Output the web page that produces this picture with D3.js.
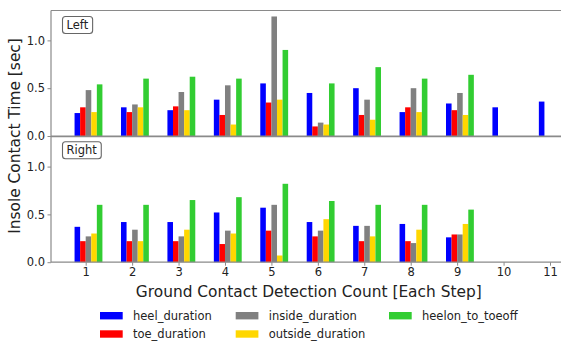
<!DOCTYPE html>
<html>
<head>
<meta charset="utf-8">
<script src="https://cdn.jsdelivr.net/npm/d3@7"></script>
<style>
  html, body { margin: 0; padding: 0; background: #fff; }
  svg { display: block; }
  text { font-family: "DejaVu Sans", sans-serif; fill: #222; }
</style>
</head>
<body>
<svg id="chart" width="561" height="342"></svg>
<script>
// ---- data ----
const steps = [1, 2, 3, 4, 5, 6, 7, 8, 9, 10, 11];
const seriesNames = ["heel_duration", "toe_duration", "inside_duration", "outside_duration", "heelon_to_toeoff"];
const seriesColors = ["#0000ff", "#ff0000", "#808080", "#ffd700", "#32cd32"];

const leftHeel    = [0.24, 0.30, 0.27, 0.38, 0.55, 0.45, 0.50, 0.25, 0.34, 0.30, 0.36];
const leftToe     = [0.30, 0.25, 0.31, 0.22, 0.35, 0.10, 0.22, 0.30, 0.27, null, null];
const leftInside  = [0.48, 0.33, 0.46, 0.53, 1.25, 0.14, 0.38, 0.50, 0.45, null, null];
const leftOutside = [0.25, 0.30, 0.27, 0.12, 0.38, 0.12, 0.17, 0.25, 0.22, null, null];
const leftHeelon  = [0.54, 0.60, 0.62, 0.60, 0.90, 0.55, 0.72, 0.60, 0.64, null, null];

const rightHeel    = [0.37, 0.42, 0.42, 0.52, 0.57, 0.42, 0.38, 0.40, 0.26, null, null];
const rightToe     = [0.22, 0.22, 0.22, 0.19, 0.33, 0.27, 0.22, 0.22, 0.29, null, null];
const rightInside  = [0.27, 0.34, 0.27, 0.33, 0.60, 0.33, 0.38, 0.20, 0.29, null, null];
const rightOutside = [0.30, 0.22, 0.34, 0.30, 0.07, 0.45, 0.27, 0.34, 0.40, null, null];
const rightHeelon  = [0.60, 0.60, 0.65, 0.68, 0.82, 0.64, 0.60, 0.60, 0.55, null, null];

const yTicks = [0.0, 0.5, 1.0];
const panelLabels = ["Left", "Right"];
const xTitle = "Ground Contact Detection Count [Each Step]";
const yTitle = "Insole Contact Time [sec]";

const panels = [
  { label: panelLabels[0], series: [leftHeel, leftToe, leftInside, leftOutside, leftHeelon] },
  { label: panelLabels[1], series: [rightHeel, rightToe, rightInside, rightOutside, rightHeelon] }
];

// ---- layout ----
const svg = d3.select("#chart");
const plotLeft = 51, plotRight = 600;
const panelBox = [{ top: 10.5, bottom: 136 }, { top: 136.7, bottom: 262.2 }];
const barW = 0.12;
const yMax = 1.3125;
const spineColor = "#8a8a8a";

const x = d3.scaleLinear().domain([1, 11]).range([85.7, 550]);

panels.forEach((p, pi) => {
  const box = panelBox[pi];
  const y = d3.scaleLinear().domain([0, yMax]).range([box.bottom, box.top]);
  const g = svg.append("g");

  // bars
  p.series.forEach((vals, k) => {
    const data = steps.map((s, i) => ({ s, v: vals[i] })).filter(d => d.v != null);
    g.selectAll(null).data(data).enter().append("rect")
      .attr("x", d => x(d.s + (k - 2) * barW))
      .attr("width", d => x(d.s + (k - 1) * barW) - x(d.s + (k - 2) * barW))
      .attr("y", d => y(d.v))
      .attr("height", d => y(0) - y(d.v))
      .attr("fill", seriesColors[k]);
  });

  // y axis
  const yAxis = d3.axisLeft(y).tickValues(yTicks).tickFormat(d3.format(".1f")).tickSize(3.5).tickPadding(2.5);
  const ga = g.append("g").attr("transform", `translate(${plotLeft},0)`).call(yAxis);
  ga.select(".domain").remove();
  ga.selectAll(".tick line").attr("stroke", spineColor);
  ga.selectAll(".tick text").style("font-size", "11.5px").attr("fill", "#222");

  // spines
  g.append("line").attr("x1", plotLeft).attr("x2", plotLeft).attr("y1", box.top).attr("y2", box.bottom)
    .attr("stroke", spineColor).attr("stroke-width", 1.2);
  g.append("line").attr("x1", plotLeft).attr("x2", plotRight).attr("y1", box.top).attr("y2", box.top)
    .attr("stroke", spineColor).attr("stroke-width", 1.2);
  g.append("line").attr("x1", plotLeft).attr("x2", plotRight).attr("y1", box.bottom).attr("y2", box.bottom)
    .attr("stroke", spineColor).attr("stroke-width", 1.2);

  // panel label box
  const lt = g.append("text").attr("x", 66.5).attr("y", box.top + (pi === 0 ? 18.5 : 17.5))
    .style("font-size", "11.5px").text(p.label);
  const bb = lt.node().getBBox();
  g.append("rect").attr("x", bb.x - 4).attr("y", bb.y - 1.5).attr("width", bb.width + 8).attr("height", bb.height + 3)
    .attr("rx", 3).attr("fill", "none").attr("stroke", "#666").attr("stroke-width", 1.1);

  if (pi === 1) {
    const xAxis = d3.axisBottom(x).tickValues(steps).tickFormat(d3.format("d")).tickSize(3.5).tickPadding(2.5);
    const gx = g.append("g").attr("transform", `translate(0,${box.bottom})`).call(xAxis);
    gx.select(".domain").remove();
    gx.selectAll(".tick line").attr("stroke", spineColor);
    gx.selectAll(".tick text").style("font-size", "11.5px").attr("fill", "#222");
  }
});

// axis titles
svg.append("text").attr("x", 308.8).attr("y", 296.5).attr("text-anchor", "middle")
  .style("font-size", "15.4px").text(xTitle);
svg.append("text").attr("transform", "translate(19.5,136) rotate(-90)").attr("text-anchor", "middle")
  .style("font-size", "15.4px").text(yTitle);

// legend
const legendPos = [[100, 315.7], [100, 334], [235.7, 315.7], [235.7, 334], [389, 315.7]];
const lg = svg.append("g");
seriesNames.forEach((name, k) => {
  const [lx, ly] = legendPos[k];
  lg.append("rect").attr("x", lx).attr("y", ly - 3.7).attr("width", 22.7).attr("height", 7.4).attr("fill", seriesColors[k]);
  lg.append("text").attr("x", lx + 33).attr("y", ly + 4.2).style("font-size", "11.5px").text(name);
});
</script>
</body>
</html>
